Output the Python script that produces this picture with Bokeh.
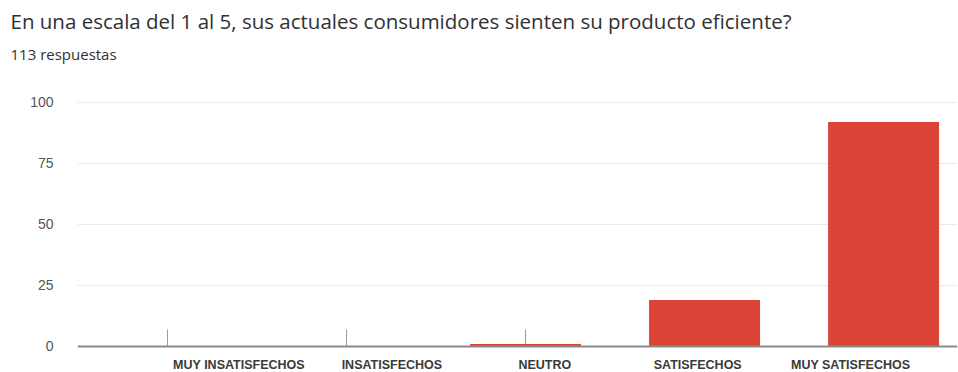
import math
from bokeh.plotting import figure
from bokeh.models import (Range1d, FixedTicker, Title, ColumnDataSource, Span)
from bokeh.core.properties import value
from bokeh.embed import file_html
from bokeh.resources import INLINE

# ---- data ----
categories = ["MUY INSATISFECHOS", "INSATISFECHOS", "NEUTRO", "SATISFECHOS", "MUY SATISFECHOS"]
counts = [0, 0, 1, 19, 92]
y_ticks = [0, 25, 50, 75, 100]
title_text = "En una escala del 1 al 5, sus actuales consumidores sienten su producto eficiente?"
subtitle_text = "113 respuestas"

idx = list(range(len(categories)))
src = ColumnDataSource(dict(x=idx, top=counts, base=[0] * len(idx), cat=categories))

p = figure(width=958, height=372, output_backend="svg", toolbar_location=None,
           x_range=Range1d(-0.503, 4.413), y_range=Range1d(-10.66, 113.1),
           x_axis_location=None, y_axis_location="left",
           min_border_left=77, min_border_right=1, min_border_top=70,
           min_border_bottom=0, background_fill_color="white",
           border_fill_color="white", outline_line_color=None)

p.extra_x_ranges = {"labels": Range1d(-1.056, 4.699)}

# titles
p.title.text = title_text
p.title.align = "left"
p.title.offset = -67
p.title.text_font = "Open Sans"
p.title.text_font_size = "20.5px"
p.title.text_font_style = "normal"
p.title.text_color = "#303134"
p.title.standoff = 0

sub = Title(text=subtitle_text, align="left", offset=-67, text_font="Open Sans",
            text_font_size="15px", text_font_style="normal", text_color="#303134",
            standoff=14)
p.add_layout(sub, "above")

# category tick marks rising from the baseline (drawn first, bars cover them)
p.ray(x="x", y="base", source=src, length=17, length_units="screen",
      angle=math.pi / 2, line_color="#999999", line_width=1)

p.vbar(x="x", top="top", width=0.62, bottom=0, source=src,
       fill_color="#db4437", line_color=None)

# baseline
p.add_layout(Span(location=0, dimension="width", line_color="#8a8a8a", line_width=2))

# category labels under the baseline
p.text(x="x", y="base", text="cat", source=src, x_range_name="labels",
       y_offset=19, text_align="center", text_baseline="middle",
       text_font=value("Liberation Sans"), text_font_style="bold",
       text_font_size=value("12.5px"), text_color="#3a3a3a")

# y axis
p.yaxis.ticker = FixedTicker(ticks=y_ticks)
p.yaxis.axis_line_color = None
p.yaxis.major_tick_line_color = None
p.yaxis.minor_tick_line_color = None
p.yaxis.major_label_standoff = 18
p.yaxis.major_label_text_font = "Liberation Sans"
p.yaxis.major_label_text_font_size = "14px"
p.yaxis.major_label_text_color = "#555555"

p.xgrid.grid_line_color = None
p.ygrid.grid_line_color = "#ebebeb"
p.ygrid.grid_line_width = 1
p.ygrid.ticker = FixedTicker(ticks=y_ticks[1:])

open("out.html", "w").write(file_html(p, INLINE))
